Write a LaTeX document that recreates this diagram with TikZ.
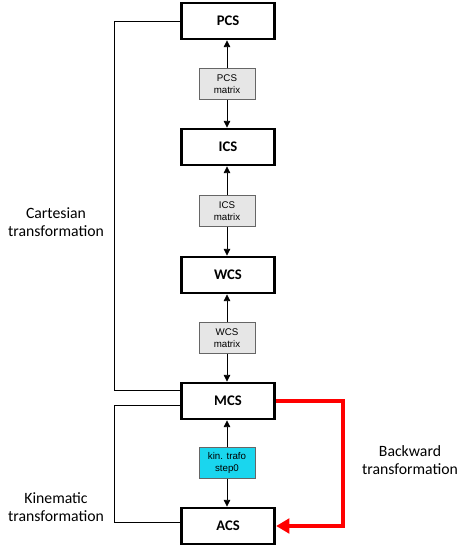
\documentclass[tikz,border=0pt]{standalone}
\usepackage{fontspec}
\setmainfont{Carlito}
\newfontfamily\matfont{Liberation Sans}
\usepackage{tikz}
\usetikzlibrary{arrows.meta,positioning,calc}
\usepackage{xcolor}
\definecolor{matgray}{HTML}{E6E6E6}
\definecolor{kincyan}{HTML}{1AD6EE}
\definecolor{transred}{HTML}{FF0000}

\tikzset{
  csbox/.style={draw,line width=2.2pt,minimum width=70pt,minimum height=27pt,font=\fontsize{11}{13}\selectfont\bfseries},
  matbox/.style={draw=gray!80!black,line width=0.5pt,fill=matgray,minimum width=42pt,minimum height=23pt,inner sep=1pt,align=center,font=\matfont\fontsize{7.3}{9}\selectfont},
  link/.style={-{Triangle[length=5pt,width=5pt]},line width=0.6pt},
  lbl/.style={align=center,font=\fontsize{11.8}{14}\selectfont}
}

\begin{document}
\begin{tikzpicture}[x=0.75pt,y=-0.75pt]
  \useasboundingbox (0,0) rectangle (467,549);

  % coordinate systems
  \node[csbox] (pcs) at (228,21) {PCS};
  \node[csbox] (ics) at (228,147) {ICS};
  \node[csbox] (wcs) at (228,275) {WCS};
  \node[csbox] (mcs) at (228,401) {MCS};
  \node[csbox] (acs) at (228,526) {ACS};

  % transformation matrices
  \node[matbox] (pcsmat) at (227,84) {PCS\\matrix};
  \node[matbox] (icsmat) at (227,211) {ICS\\matrix};
  \node[matbox] (wcsmat) at (227,338) {WCS\\matrix};
  \node[matbox,fill=kincyan] (kin) at (227,463) {kin. trafo\\step0};

  % arrows from the matrices
  \foreach \m/\up/\down in {pcsmat/pcs/ics, icsmat/ics/wcs, wcsmat/wcs/mcs, kin/mcs/acs}{
    \draw[link] (\m.north) -- (\m.north |- \up.south);
    \draw[link] (\m.south) -- (\m.south |- \down.north);
  }

  % brackets on the left
  \draw[line width=0.6pt] (pcs.west) -- ++(-65,0) |- ($(mcs.west)+(0,-11)$);
  \draw[line width=0.6pt] ($(mcs.west)+(0,4)$) -- ++(-65,0) |- ($(acs.west)+(0,-4)$);
  \node[lbl] (cart) at (56,222) {Cartesian\\transformation};
  \node[lbl] (kinlbl) at (56,507) {Kinematic\\transformation};

  % backward transformation
  \draw[transred,line width=3pt,-{Triangle[length=10pt,width=11pt]}] (mcs.east) -- ++(67,0) |- (acs.east);
  \node[lbl] (back) at (410,460) {Backward\\transformation};
\end{tikzpicture}
\end{document}
